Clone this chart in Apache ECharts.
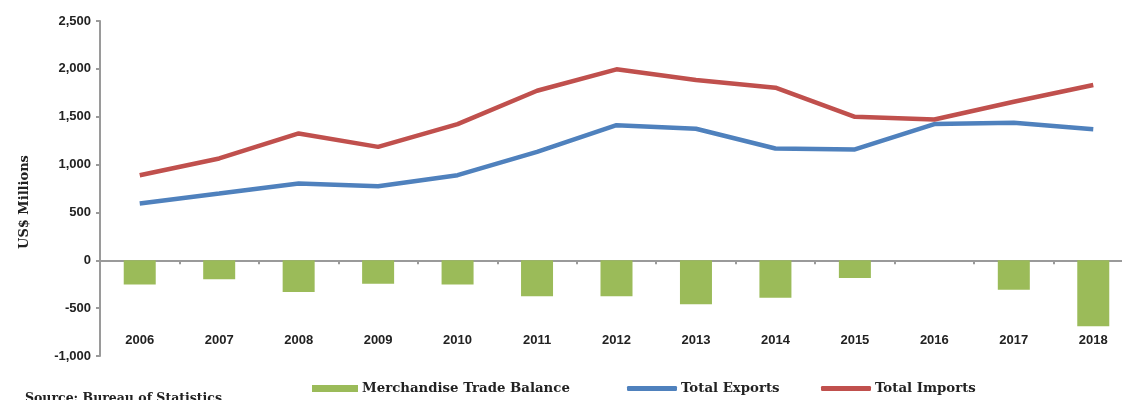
<!DOCTYPE html>
<html><head><meta charset="utf-8">
<script src="https://cdn.jsdelivr.net/npm/echarts@6/dist/echarts.min.js"></script>
<style>html,body{margin:0;padding:0;background:#fff;overflow:hidden}#c{width:1134px;height:400px}</style>
</head><body><div id="c"></div>
<script>
var years = ['2006','2007','2008','2009','2010','2011','2012','2013','2014','2015','2016','2017','2018'];
var tradeBalance = [-254,-199,-331,-244,-254,-377,-377,-460,-391,-185,0,-307,-690];
var totalExports = [593,697,802,774,889,1133,1412,1374,1168,1158,1423,1436,1370];
var totalImports = [889,1064,1325,1185,1423,1771,1995,1883,1803,1499,1471,1656,1831];
var seriesNames = ['Merchandise Trade Balance','Total Exports','Total Imports'];

var serif = '"DejaVu Serif", serif';
var sans = '"Liberation Sans", Arial, sans-serif';
var chart = echarts.init(document.getElementById('c'));
var legendBase = {top: 382, padding: 0, itemGap: 5, textStyle: {fontFamily: serif, fontWeight: 'bold', fontSize: 13.3, color: '#222', padding: [0,0,0,-1]}};
chart.setOption({
  animation: false,
  grid: {left: 100, top: 21, right: 1, height: 335, containLabel: false},
  xAxis: [{
    type: 'category', data: years, position: 'bottom',
    axisLine: {onZero: true, lineStyle: {color: '#9a9a9a', width: 2}},
    axisTick: {show: true, length: 4, lineStyle: {color: '#9a9a9a', width: 2}},
    axisLabel: {show: false}
  }, {
    type: 'category', data: years, position: 'bottom', offset: -22,
    axisLine: {show: false, onZero: false}, axisTick: {show: false},
    axisLabel: {show: true, margin: 0, fontFamily: sans, fontWeight: 'bold', fontSize: 13, color: '#222'}
  }],
  yAxis: {
    type: 'value', min: -1000, max: 2500, interval: 500,
    axisLine: {show: true, lineStyle: {color: '#9a9a9a', width: 2}},
    axisTick: {show: true, length: 4, lineStyle: {color: '#9a9a9a', width: 2}},
    splitLine: {show: false},
    axisLabel: {margin: 9, fontFamily: sans, fontWeight: 'bold', fontSize: 13, color: '#222',
      formatter: function (v) { return v.toLocaleString('en-US'); }}
  },
  legend: [
    Object.assign({}, legendBase, {left: 312, data: [{name: seriesNames[0], icon: 'rect'}], itemWidth: 46, itemHeight: 7}),
    Object.assign({}, legendBase, {left: 627, data: [{name: seriesNames[1], icon: 'roundRect'}], itemWidth: 50, itemHeight: 5}),
    Object.assign({}, legendBase, {left: 821, data: [{name: seriesNames[2], icon: 'roundRect'}], itemWidth: 50, itemHeight: 5})
  ],
  graphic: [
    {type: 'text', left: 25, top: 392, style: {text: 'Source: Bureau of Statistics', font: 'bold 12.5px "DejaVu Serif", serif', fill: '#222'}},
    {type: 'text', x: 25, y: 202, rotation: Math.PI / 2, style: {text: 'US$ Millions', font: 'bold 13px "DejaVu Serif", serif', fill: '#222', align: 'center', verticalAlign: 'middle'}}
  ],
  series: [
    {name: seriesNames[0], type: 'bar', data: tradeBalance, barWidth: 32, itemStyle: {color: '#9bbb59'}},
    {name: seriesNames[1], type: 'line', data: totalExports, symbol: 'none', lineStyle: {color: '#4f81bd', width: 4.5}, itemStyle: {color: '#4f81bd'}},
    {name: seriesNames[2], type: 'line', data: totalImports, symbol: 'none', lineStyle: {color: '#c0504d', width: 4.5}, itemStyle: {color: '#c0504d'}}
  ]
});
</script></body></html>
